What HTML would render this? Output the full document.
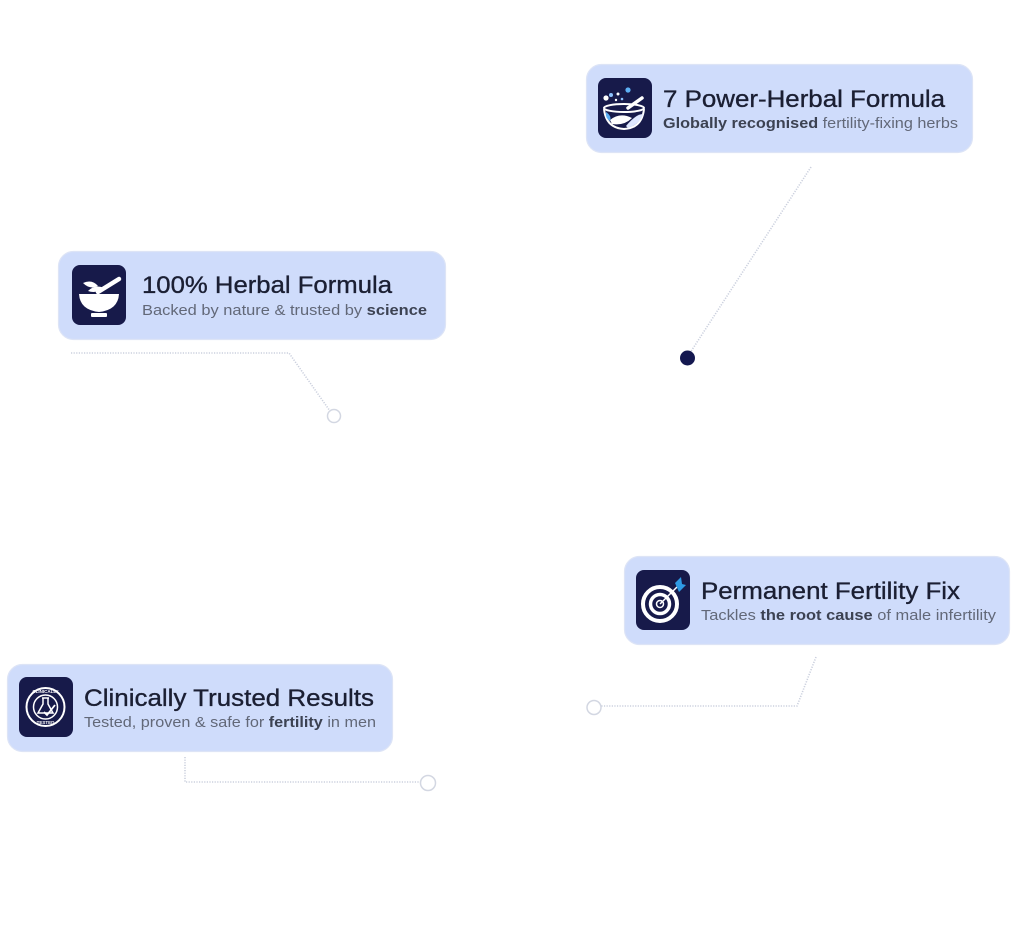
<!DOCTYPE html>
<html><head><meta charset="utf-8"><style>
html,body{margin:0;padding:0;background:#fff;}
svg{display:block;}
.t{font-family:"Liberation Sans",Arial,sans-serif;font-size:24px;fill:#1b1f33;stroke:#1b1f33;stroke-width:0.35px;}
.s{font-family:"Liberation Sans",Arial,sans-serif;font-size:15px;fill:#626878;}
.b{font-weight:bold;fill:#3c4252;}
.card{fill:#cfdcfb;stroke:#dde4f6;stroke-width:1.2;}
.ic{fill:#171a4a;}
.ln{fill:none;stroke:#cbd0de;stroke-width:1.6;stroke-dasharray:1.2 1.4;}
.oc{fill:#fff;stroke:#d3d7e2;stroke-width:1.5;}
</style></head><body>
<svg width="1024" height="926" viewBox="0 0 1024 926" xmlns="http://www.w3.org/2000/svg">
<!-- connectors -->
<line class="ln" x1="811" y1="167" x2="688" y2="356"/>
<circle cx="687.5" cy="358" r="7.5" fill="#141850"/>

<polyline class="ln" points="71,353 289,353 330,411"/>
<circle class="oc" cx="334" cy="416" r="6.5"/>

<polyline class="ln" points="816,657 797,706 601,706"/>
<circle class="oc" cx="594" cy="707.5" r="7"/>

<polyline class="ln" points="185,757 185,782 421,782"/>
<circle class="oc" cx="428" cy="783" r="7.5"/>

<!-- card 1 -->
<rect class="card" x="586.5" y="64.5" width="386" height="88" rx="15"/>
<rect class="ic" x="598" y="78" width="54" height="60" rx="8"/>
<g>
  <circle cx="606" cy="98" r="2.6" fill="#fff"/>
  <circle cx="611" cy="95" r="2" fill="#8fc4ff"/>
  <circle cx="618" cy="94" r="1.5" fill="#fff"/>
  <circle cx="622" cy="99" r="1.3" fill="#8fc4ff"/>
  <circle cx="628" cy="90" r="2.6" fill="#5db0f5"/>
  <circle cx="616" cy="100" r="1.2" fill="#fff"/>
  <line x1="628" y1="108" x2="642" y2="98" stroke="#fff" stroke-width="3.5" stroke-linecap="round"/>
  <ellipse cx="624" cy="108" rx="20" ry="4" fill="none" stroke="#fff" stroke-width="2"/>
  <path d="M604,109 Q606,128 624,129 Q642,128 644,109" fill="none" stroke="#fff" stroke-width="2"/>
  <path d="M610,120 Q620,112 632,118 Q624,126 612,124 Z" fill="#fff"/>
  <path d="M626,126 Q636,114 643,114 Q640,124 628,128 Z" fill="#dfe8ff"/>
  <path d="M606,112 Q612,116 610,121 Q605,118 606,112 Z" fill="#5db0f5"/>
</g>
<text class="t" x="663" y="107" textLength="282" lengthAdjust="spacingAndGlyphs">7 Power-Herbal Formula</text>
<text class="s" x="663" y="128" textLength="295" lengthAdjust="spacingAndGlyphs"><tspan class="b">Globally recognised</tspan> fertility-fixing herbs</text>

<!-- card 2 -->
<rect class="card" x="58.5" y="251.5" width="387" height="88" rx="15"/>
<rect class="ic" x="72" y="265" width="54" height="60" rx="8"/>
<g>
  <line x1="98" y1="292" x2="119" y2="279" stroke="#fff" stroke-width="4.5" stroke-linecap="round"/>
  <path d="M83,283 Q92,279 98,286 Q90,290 83,283 Z" fill="#fff"/>
  <path d="M88,291 Q95,284 104,288 Q96,294 88,291 Z" fill="#fff"/>
  <path d="M79,294 L119,294 Q118,310 99,312 Q80,310 79,294 Z" fill="#fff"/>
  <rect x="91" y="313" width="16" height="4" rx="1" fill="#fff"/>
</g>
<text class="t" x="142" y="293" textLength="250" lengthAdjust="spacingAndGlyphs">100% Herbal Formula</text>
<text class="s" x="142" y="315" textLength="285" lengthAdjust="spacingAndGlyphs">Backed by nature &amp; trusted by <tspan class="b">science</tspan></text>

<!-- card 3 -->
<rect class="card" x="624.5" y="556.5" width="385" height="88" rx="15"/>
<rect class="ic" x="636" y="570" width="54" height="60" rx="8"/>
<g>
  <circle cx="660" cy="604" r="17" fill="none" stroke="#fff" stroke-width="4"/>
  <circle cx="660" cy="604" r="9.5" fill="none" stroke="#fff" stroke-width="3.5"/>
  <circle cx="660" cy="604" r="3.5" fill="none" stroke="#fff" stroke-width="1.5"/>
  <line x1="660" y1="604" x2="677" y2="587" stroke="#fff" stroke-width="1.5"/>
  <path d="M675,583 L681,577 L682,584 L686,585 L679,592 Z" fill="#2f9be6"/>
</g>
<text class="t" x="701" y="599" textLength="259" lengthAdjust="spacingAndGlyphs">Permanent Fertility Fix</text>
<text class="s" x="701" y="620" textLength="295" lengthAdjust="spacingAndGlyphs">Tackles <tspan class="b">the root cause</tspan> of male infertility</text>

<!-- card 4 -->
<rect class="card" x="7.5" y="664.5" width="385" height="87" rx="15"/>
<rect class="ic" x="19" y="677" width="54" height="60" rx="8"/>
<g>
  <circle cx="45.5" cy="707" r="19" fill="none" stroke="#fff" stroke-width="2"/>
  <circle cx="45.5" cy="707" r="12" fill="none" stroke="#fff" stroke-width="1.5"/>
  <path d="M42,698 L49,698 M43,698 L43,704 L38,713 L53,713 L48,704 L48,698" fill="none" stroke="#fff" stroke-width="1.5"/>
  <path d="M44,712 L47,715 L55,705" fill="none" stroke="#fff" stroke-width="1.8"/>
  <text x="45.5" y="693" font-family="Liberation Sans,sans-serif" font-size="4.5" font-weight="bold" fill="#fff" text-anchor="middle">CLINICALLY</text>
  <text x="45.5" y="724" font-family="Liberation Sans,sans-serif" font-size="4.5" font-weight="bold" fill="#fff" text-anchor="middle">TESTED</text>
</g>
<text class="t" x="84" y="706" textLength="290" lengthAdjust="spacingAndGlyphs">Clinically Trusted Results</text>
<text class="s" x="84" y="727" textLength="292" lengthAdjust="spacingAndGlyphs">Tested, proven &amp; safe for <tspan class="b">fertility</tspan> in men</text>
</svg>
</body></html>
